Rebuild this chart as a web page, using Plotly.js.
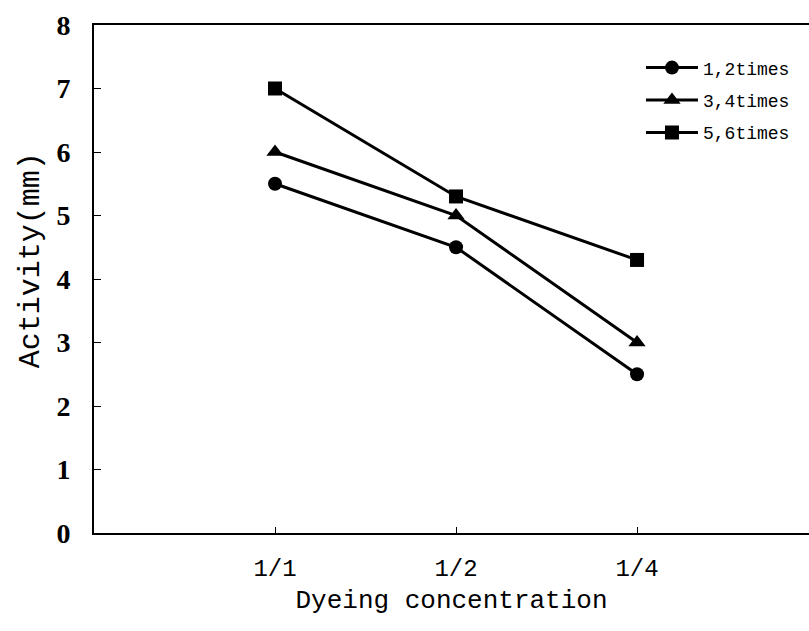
<!DOCTYPE html>
<html>
<head>
<meta charset="utf-8">
<script src="https://cdn.plot.ly/plotly-3.0.1.min.js"></script>
<style>html,body{margin:0;padding:0;background:#fff;}#chart{width:809px;height:631px;}</style>
</head>
<body>
<div id="chart"></div>
<script>
const categories = ["1/1", "1/2", "1/4"];
const seriesNames = ["1,2times", "3,4times", "5,6times"];
const series12 = [5.5, 4.5, 2.5];
const series34 = [6.0, 5.0, 3.0];
const series56 = [7.0, 5.3, 4.3];
const yTicks = [0, 1, 2, 3, 4, 5, 6, 7, 8];

const xIdx = categories.map((c, i) => i);
const symbols = ["circle", "triangle-up", "square"];
const allVals = [series12, series34, series56];

const traces = allVals.map((vals, k) => ({
  x: xIdx,
  y: vals,
  name: seriesNames[k],
  legendgroup: "g" + k,
  type: "scatter",
  mode: "lines+markers",
  line: {color: "#000", width: 3},
  marker: {symbol: symbols[k], size: k === 1 ? 15 : 14, color: "#000"}
}));

const monoFont = "Liberation Mono, DejaVu Sans Mono, monospace";
const layout = {
  width: 809, height: 631,
  margin: {l: 94, r: 0, t: 25, b: 98},
  paper_bgcolor: "#fff", plot_bgcolor: "#fff",
  showlegend: true,
  legend: {
    x: 0.765, y: 0.952, xanchor: "left", yanchor: "top",
    bgcolor: "rgba(0,0,0,0)",
    font: {family: monoFont, size: 18, color: "#000"},
    tracegroupgap: 6, itemwidth: 52
  },
  xaxis: {
    range: [-1, 2.95],
    tickvals: xIdx, ticktext: categories,
    ticks: "inside", ticklen: 6, tickwidth: 1, tickcolor: "#000",
    showline: true, linecolor: "#000", linewidth: 2, mirror: true,
    showgrid: false, zeroline: false,
    tickfont: {family: monoFont, size: 24, color: "#000"},
    ticklabelstandoff: 12,
    title: {text: "Dyeing concentration", font: {family: monoFont, size: 26, color: "#000"}, standoff: 8}
  },
  yaxis: {
    range: [0, 8],
    tickvals: yTicks,
    ticks: "inside", ticklen: 7, tickwidth: 1, tickcolor: "#000",
    showline: true, linecolor: "#000", linewidth: 2, mirror: false,
    showgrid: false, zeroline: false,
    tickfont: {family: "Liberation Serif, serif", size: 28, color: "#000", weight: "bold"},
    ticklabelstandoff: 16
  },
  annotations: [{
    text: "Activity(mm)", xref: "paper", yref: "paper",
    x: -0.088, y: 0.537, xanchor: "center", yanchor: "middle",
    showarrow: false, textangle: -90,
    font: {family: monoFont, size: 30, color: "#000"}
  }]
};

Plotly.newPlot("chart", traces, layout, {displayModeBar: false, staticPlot: true});
</script>
</body>
</html>
